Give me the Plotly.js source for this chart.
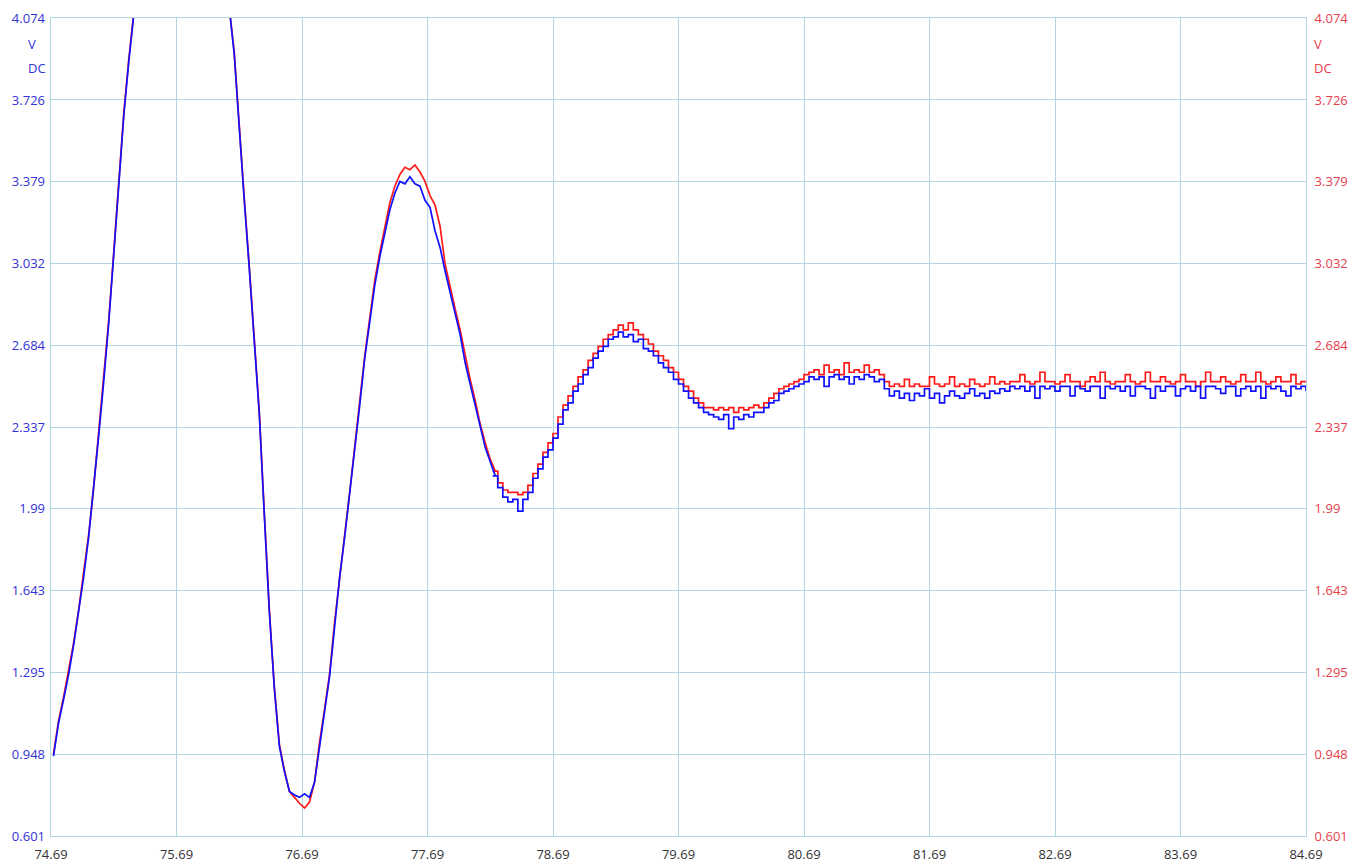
<!DOCTYPE html>
<html>
<head>
<meta charset="utf-8">
<script src="https://cdn.plot.ly/plotly-3.0.1.min.js"></script>
<style>
html,body{margin:0;padding:0;background:#fff;}
#chart{width:1364px;height:866px;}
</style>
</head>
<body>
<div id="chart"></div>
<script>
// sampling: start time and interval (s)
var tStart = 74.69;
var tStep = 0.04;

// channel 1 (blue), volts DC, one value per sample
var blueValues = [
0.94,1.08,1.18,1.285,1.41,1.55,1.70,1.87,2.07,2.30,2.53,2.78,3.07,3.37,3.66,3.89,4.11,
4.33,4.55,4.74,4.89,5.00,5.08,5.14,5.17,5.18,5.17,5.13,5.07,4.99,4.88,4.75,4.60,4.44,4.27,4.12,
3.92,3.60,3.30,3.01,2.72,2.39,1.96,1.55,1.225,0.98,0.875,0.79,0.775,
0.765,0.78,0.765,0.83,
0.99,1.13,1.28,1.50,1.70,1.87,2.05,2.24,2.43,2.63,2.79,2.94,
3.06,3.16,3.26,3.33,3.38,3.37,3.40,3.37,3.36,3.30,3.27,3.17,3.10,
3.00,2.91,2.81,2.73,2.61,2.52,2.43,2.33,2.25,2.19,2.13,2.08,2.04,2.02,2.03,1.98,2.03,2.06,2.12,2.16,2.21,2.24,2.29,
2.35,2.41,2.44,2.49,2.52,2.56,2.59,2.63,2.66,2.68,2.71,2.72,2.74,2.72,2.73,2.70,2.71,2.67,2.66,2.64,2.61,2.59,2.57,2.54,2.52,2.49,2.46,2.44,2.42,
2.40,2.39,2.38,2.37,2.39,2.33,2.38,2.37,2.39,2.38,2.40,2.40,2.42,2.44,2.45,2.48,2.49,2.50,2.51,2.52,2.53,
2.55,2.54,2.55,2.51,2.55,2.56,2.54,2.55,2.52,2.55,2.54,2.56,2.55,2.53,2.54,
2.50,2.47,2.49,2.46,2.48,2.45,2.48,2.47,2.50,2.46,2.48,2.44,2.47,2.49,2.47,2.46,2.48,2.50,2.47,2.48,2.46,2.49,2.48,2.50,2.49,
2.51,2.50,2.51,2.49,2.51,2.46,2.51,2.50,2.51,2.49,
2.51,2.51,2.47,2.51,2.50,2.49,2.51,2.51,2.46,2.51,
2.50,2.51,2.49,2.51,2.47,2.51,2.51,2.50,2.46,2.51,
2.49,2.51,2.51,2.47,2.50,2.51,2.49,2.51,2.46,2.51,
2.51,2.50,2.48,2.51,2.51,2.47,2.50,2.51,2.49,2.51,
2.46,2.51,2.50,2.51,2.49,2.47,2.51,2.50,2.51,2.49
];

// channel 2 (red), volts DC, one value per sample
var redValues = [
0.95,1.09,1.19,1.30,1.42,1.56,1.71,1.88,2.08,2.31,2.54,2.79,3.08,3.38,3.67,3.90,4.12,
4.33,4.55,4.74,4.89,5.00,5.08,5.14,5.17,5.18,5.17,5.13,5.07,4.99,4.88,4.75,4.60,4.44,4.27,4.12,
3.93,3.61,3.31,3.02,2.73,2.40,1.97,1.56,1.23,0.99,0.88,0.79,0.765,
0.74,0.72,0.745,0.83,
1.00,1.14,1.29,1.51,1.71,1.88,2.06,2.25,2.44,2.64,2.80,2.96,
3.08,3.19,3.29,3.36,3.41,3.44,3.43,3.45,3.42,3.38,3.32,3.28,3.19,
3.03,2.93,2.84,2.75,2.64,2.54,2.45,2.35,2.27,2.20,2.15,2.10,2.07,2.06,2.06,2.05,2.06,2.09,2.14,2.18,2.23,2.27,2.31,
2.38,2.43,2.47,2.51,2.55,2.58,2.62,2.65,2.68,2.71,2.73,2.75,2.77,2.75,2.78,2.75,2.73,2.71,2.69,2.66,2.64,2.62,2.59,2.57,2.54,2.51,2.49,2.46,2.44,
2.42,2.42,2.41,2.42,2.41,2.42,2.40,2.42,2.41,2.42,2.43,2.42,2.44,2.46,2.48,2.50,2.51,2.52,2.53,2.54,2.56,
2.57,2.58,2.56,2.60,2.57,2.58,2.56,2.61,2.57,2.58,2.57,2.60,2.57,2.58,2.56,
2.53,2.51,2.52,2.51,2.54,2.51,2.52,2.51,2.51,2.55,2.52,2.51,2.52,2.55,2.51,2.52,2.51,2.54,2.52,2.51,2.52,2.55,2.52,2.53,2.52,
2.53,2.53,2.56,2.53,2.52,2.53,2.57,2.53,2.53,2.52,
2.53,2.56,2.53,2.53,2.51,2.53,2.55,2.53,2.57,2.53,
2.52,2.53,2.53,2.56,2.53,2.52,2.53,2.57,2.53,2.53,
2.55,2.53,2.52,2.53,2.56,2.53,2.53,2.51,2.53,2.57,
2.53,2.53,2.55,2.53,2.52,2.53,2.56,2.53,2.53,2.57,
2.53,2.52,2.53,2.55,2.53,2.53,2.56,2.52,2.53,2.53
];

// axis ticks
var xTickVals = [74.69,75.69,76.69,77.69,78.69,79.69,80.69,81.69,82.69,83.69,84.69];
var xTickText = ["74.69","75.69","76.69","77.69","78.69","79.69","80.69","81.69","82.69","83.69","84.69"];
var yTickVals = [0.601,0.948,1.295,1.643,1.99,2.337,2.684,3.032,3.379,3.726,4.074];
var yTickText = ["0.601","0.948","1.295","1.643","1.99","2.337","2.684","3.032","3.379","3.726","4.074"];
var unitText = ["V","DC"];

// fast-slewing samples are drawn joined; the settling part is drawn as held steps
var splitIndex = 88;

var times = blueValues.map(function(_, i){ return +(tStart + i*tStep).toFixed(4); });
var timesMid = times.map(function(t){ return +(t + tStep/2).toFixed(4); });

var gridColor = 'rgb(178,214,226)';
var blueLbl = '#3232d8';
var redLbl = '#e6404a';
var blueLine = '#1010ff';
var redLine = '#ff1a1a';

function seg(xs, ys, axis, color, shape, a, b){
  return {x: xs.slice(a, b), y: ys.slice(a, b), yaxis: axis, type: 'scatter', mode: 'lines',
          line: {color: color, width: 1.7, shape: shape}, hoverinfo: 'skip', showlegend: false};
}

var traces = [
  seg(timesMid, redValues, 'y', redLine, 'linear', 0, splitIndex + 1),
  seg(times, redValues, 'y', redLine, 'hv', splitIndex, redValues.length),
  seg(timesMid, blueValues, 'y2', blueLine, 'linear', 0, splitIndex + 1),
  seg(times, blueValues, 'y2', blueLine, 'hv', splitIndex, blueValues.length)
];

var fontFam = '"Open Sans", "Noto Sans", "DejaVu Sans", sans-serif';

var annotations = [];
unitText.forEach(function(t, k){
  annotations.push({xref:'paper', yref:'paper', x:0, y:1, xanchor:'left', yanchor:'middle',
    xshift:-25, yshift:-26 - k*23.5, text:t, showarrow:false, font:{family:fontFam, size:13, color:blueLbl}});
  annotations.push({xref:'paper', yref:'paper', x:1, y:1, xanchor:'left', yanchor:'middle',
    xshift:6, yshift:-26 - k*23.5, text:t, showarrow:false, font:{family:fontFam, size:13, color:redLbl}});
});

var yRange = [0.601 - 1e-6, 4.074 + 1e-6];

var layout = {
  width: 1364, height: 866,
  margin: {l: 51, r: 58, t: 18, b: 30, pad: 0},
  paper_bgcolor: '#ffffff', plot_bgcolor: '#ffffff',
  font: {family: fontFam, size: 13},
  showlegend: false,
  xaxis: {
    range: [74.69 - 1e-6, 84.69 + 1e-6], tickmode: 'array', tickvals: xTickVals, ticktext: xTickText,
    showgrid: true, gridcolor: gridColor, gridwidth: 1,
    showline: true, linecolor: gridColor, linewidth: 1, mirror: true,
    zeroline: false, ticks: '', tickfont: {family: fontFam, size: 13, color: '#333333'},
    ticklabelstandoff: 6
  },
  yaxis: {
    range: yRange, side: 'right', tickmode: 'array', tickvals: yTickVals, ticktext: yTickText,
    showgrid: true, gridcolor: gridColor, gridwidth: 1,
    showline: true, linecolor: gridColor, linewidth: 1, mirror: true,
    zeroline: false, ticks: '', tickfont: {family: fontFam, size: 13, color: redLbl},
    ticklabelstandoff: 5
  },
  yaxis2: {
    range: yRange, side: 'left', overlaying: 'y', tickmode: 'array', tickvals: yTickVals, ticktext: yTickText,
    showgrid: false, showline: false, zeroline: false, ticks: '',
    tickfont: {family: fontFam, size: 13, color: blueLbl},
    ticklabelstandoff: 5
  },
  annotations: annotations
};

Plotly.newPlot('chart', traces, layout, {staticPlot: true, displayModeBar: false});
</script>
</body>
</html>
